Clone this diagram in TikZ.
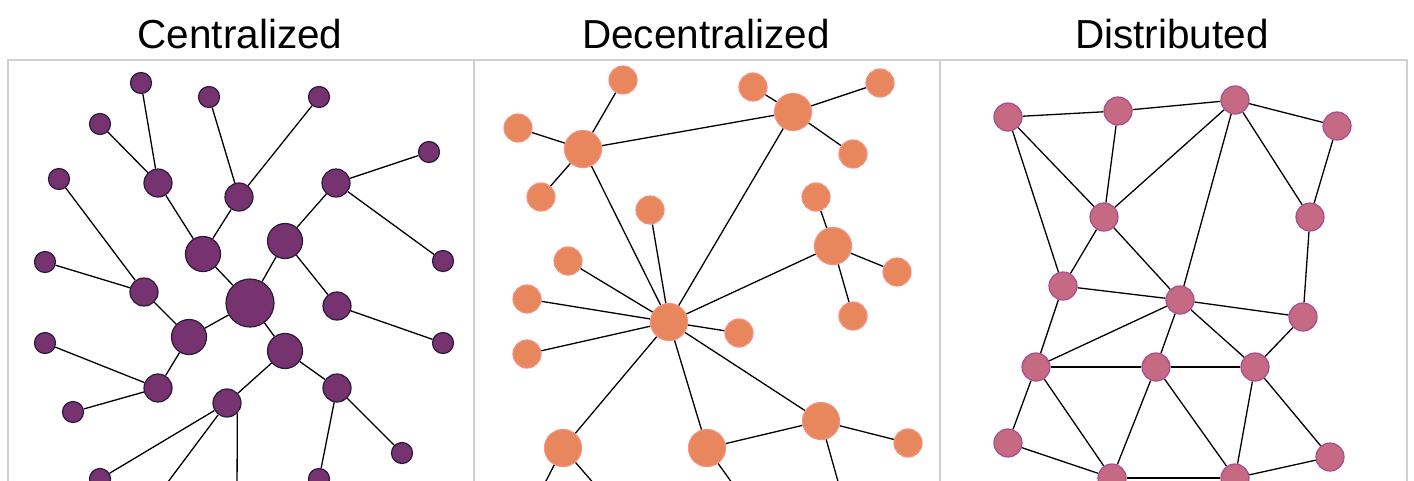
\documentclass[tikz,border=0pt]{standalone}
\usepackage{fontspec}
\setmainfont{Liberation Sans}
\usetikzlibrary{backgrounds}
\definecolor{pfill}{HTML}{763370}
\definecolor{pline}{HTML}{2A1A3E}
\definecolor{ofill}{HTML}{E8865D}
\definecolor{oline}{HTML}{F2917E}
\definecolor{kfill}{HTML}{C56A82}
\definecolor{kline}{HTML}{A44E8C}
\definecolor{frame}{HTML}{D0D0D0}
\tikzset{
  pn/.style={circle,inner sep=0pt,fill=pfill,draw=pline,line width=1.2pt},
  ps/.style={pn,minimum size=21pt},
  pm/.style={pn,minimum size=28pt},
  pb/.style={pn,minimum size=35pt},
  ph/.style={pn,minimum size=48pt},
  on/.style={circle,inner sep=0pt,fill=ofill,draw=oline,line width=1.2pt},
  os/.style={on,minimum size=28pt},
  ob/.style={on,minimum size=37pt},
  kn/.style={circle,inner sep=0pt,fill=kfill,draw=kline,line width=1.2pt,minimum size=28pt},
  edge/.style={draw=black,line width=1.3pt},
  panel/.style={draw=frame,line width=1.5pt},
  ttl/.style={anchor=base,font=\fontsize{40.5}{44}\selectfont,inner sep=0pt}
}
\begin{document}
\begin{tikzpicture}[x=1pt,y=-1pt]
\useasboundingbox (0,0) rectangle (1414,480);
\clip (0,0) rectangle (1414,480);
% panels
\draw[panel] (8,60) rectangle (474,560);
\draw[panel] (474,60) rectangle (940,560);
\draw[panel] (940,60) rectangle (1407,560);
% titles
\node[ttl] (t1) at (240,48) {Centralized};
\node[ttl] (t2) at (706,48) {Decentralized};
\node[ttl] (t3) at (1172,48) {Distributed};

% ---------- Centralized ----------
\node[ph] (c0) at (250,303) {};
\node[pb] (c1) at (203,254) {};
\node[pb] (c2) at (285,241) {};
\node[pb] (c3) at (189,337) {};
\node[pb] (c4) at (285,351) {};
\node[pm] (c5) at (158,183) {};
\node[pm] (c6) at (239,197) {};
\node[pm] (c7) at (336,183) {};
\node[pm] (c8) at (144,292) {};
\node[pm] (c9) at (337,306) {};
\node[pm] (c10) at (158,388) {};
\node[pm] (c11) at (227,403) {};
\node[pm] (c12) at (337,388) {};
\node[ps] (s1) at (141,83) {};
\node[ps] (s2) at (100,124) {};
\node[ps] (s3) at (209,97) {};
\node[ps] (s4) at (319,97) {};
\node[ps] (s5) at (429,152) {};
\node[ps] (s6) at (59,179) {};
\node[ps] (s7) at (45,262) {};
\node[ps] (s8) at (443,261) {};
\node[ps] (s9) at (45,343) {};
\node[ps] (s10) at (443,343) {};
\node[ps] (s11) at (73,412) {};
\node[ps] (s12) at (402,453) {};
\node[ps] (s13) at (100,479) {};
\node[ps] (s14) at (319,479) {};
\node[ps] (s15) at (150,506) {};
\node[ps] (s16) at (237,508) {};

% ---------- Decentralized ----------
\node[ob] (d0) at (669,322) {};
\node[ob] (d1) at (583,149) {};
\node[ob] (d2) at (793,112) {};
\node[ob] (d3) at (833,246) {};
\node[ob] (d4) at (821,421) {};
\node[ob] (d5) at (707,448) {};
\node[ob] (d6) at (563,448) {};
\node[os] (e1) at (623,80) {};
\node[os] (e2) at (518,128) {};
\node[os] (e3) at (541,197) {};
\node[os] (e4) at (650,210) {};
\node[os] (e5) at (568,261) {};
\node[os] (e6) at (527,299) {};
\node[os] (e7) at (527,354) {};
\node[os] (e8) at (753,87) {};
\node[os] (e9) at (880,83) {};
\node[os] (e10) at (853,154) {};
\node[os] (e11) at (816,197) {};
\node[os] (e12) at (897,272) {};
\node[os] (e13) at (853,316) {};
\node[os] (e14) at (739,333) {};
\node[os] (e15) at (908,443) {};
\node[os] (e16) at (532,508) {};
\node[os] (e17) at (615,508) {};
\node[os] (e18) at (750,508) {};
\node[os] (e19) at (846,510) {};

% ---------- Distributed ----------
\node[kn] (k1) at (1008,117) {};
\node[kn] (k2) at (1118,111) {};
\node[kn] (k3) at (1235,100) {};
\node[kn] (k4) at (1337,126) {};
\node[kn] (k5) at (1104,217) {};
\node[kn] (k6) at (1310,217) {};
\node[kn] (k7) at (1063,286) {};
\node[kn] (k8) at (1180,300) {};
\node[kn] (k9) at (1303,317) {};
\node[kn] (k10) at (1036,367) {};
\node[kn] (k11) at (1156,367) {};
\node[kn] (k12) at (1255,367) {};
\node[kn] (k13) at (1008,443) {};
\node[kn] (k14) at (1330,457) {};
\node[kn] (k15) at (1112,478) {};
\node[kn] (k16) at (1235,478) {};

\begin{pgfonlayer}{background}
\fill[white] (0,0) rectangle (1414,480);
% centralized edges
\foreach \a/\b in {c0/c1,c0/c2,c0/c3,c0/c4,c1/c5,c1/c6,c5/s1,c5/s2,c6/s3,c6/s4,
  c2/c7,c7/s5,c7/s8,c2/c9,c9/s10,s6/c8,s7/c8,c8/c3,c3/c10,s9/c10,s11/c10,
  c4/c11,c4/c12,c12/s12,c12/s14,c11/s13,c11/s15}
  \draw[edge] (\a) -- (\b);
\draw[edge] (c11.-45) -- (s16.north);
% decentralized edges
\foreach \a/\b in {d1/e1,d1/e2,d1/e3,d1/d2,d1/d0,e4/d0,e5/d0,e6/d0,e7/d0,
  d0/d2,d0/d3,d0/e14,d0/d4,d0/d5,d0/d6,d2/e8,d2/e9,d2/e10,d3/e11,d3/e12,d3/e13,
  d4/d5,d4/e15,d4/e19,d6/e16,d6/e17,d5/e18}
  \draw[edge] (\a) -- (\b);
% distributed edges
\foreach \a/\b in {k1/k2,k2/k3,k3/k4,k1/k5,k1/k7,k2/k5,k5/k3,k5/k7,k5/k8,k3/k8,
  k3/k6,k4/k6,k6/k9,k7/k8,k7/k10,k10/k8,k10/k11,k10/k13,k10/k15,k11/k8,k11/k15,
  k11/k12,k11/k16,k8/k9,k8/k12,k9/k12,k12/k16,k12/k14,k14/k16,k13/k15,k15/k16}
  \draw[edge] (\a) -- (\b);
\end{pgfonlayer}
\end{tikzpicture}
\end{document}
